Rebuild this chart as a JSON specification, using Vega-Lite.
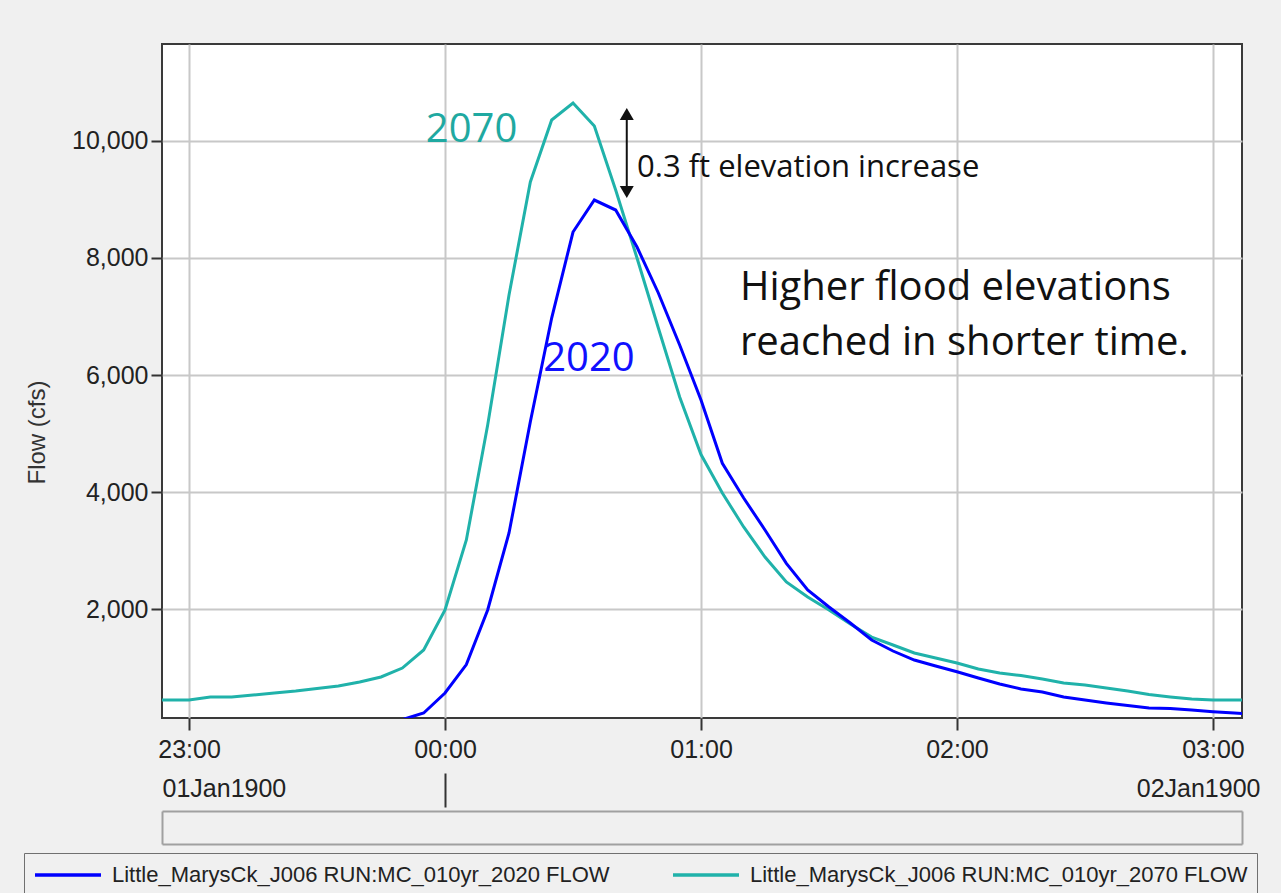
{
  "$schema": "https://vega.github.io/schema/vega-lite/v6.json",
  "width": 1080,
  "height": 674,
  "autosize": {"type": "none"},
  "padding": {"left": 162, "top": 44, "right": 39, "bottom": 175},
  "background": "#f0f0f0",
  "view": {"fill": "white", "stroke": "#3a3a3a", "strokeWidth": 2},
  "config": {"text": {"lineBreak": "\n"}},
  "datasets": {
    "flows": [
      {"t": "1900-01-01T22:50:00Z", "flow": 444, "series": "Little_MarysCk_J006 RUN:MC_010yr_2070 FLOW"},
      {"t": "1900-01-01T22:55:00Z", "flow": 444, "series": "Little_MarysCk_J006 RUN:MC_010yr_2070 FLOW"},
      {"t": "1900-01-01T23:00:00Z", "flow": 446, "series": "Little_MarysCk_J006 RUN:MC_010yr_2070 FLOW"},
      {"t": "1900-01-01T23:05:00Z", "flow": 496, "series": "Little_MarysCk_J006 RUN:MC_010yr_2070 FLOW"},
      {"t": "1900-01-01T23:10:00Z", "flow": 498, "series": "Little_MarysCk_J006 RUN:MC_010yr_2070 FLOW"},
      {"t": "1900-01-01T23:15:00Z", "flow": 530, "series": "Little_MarysCk_J006 RUN:MC_010yr_2070 FLOW"},
      {"t": "1900-01-01T23:20:00Z", "flow": 564, "series": "Little_MarysCk_J006 RUN:MC_010yr_2070 FLOW"},
      {"t": "1900-01-01T23:25:00Z", "flow": 598, "series": "Little_MarysCk_J006 RUN:MC_010yr_2070 FLOW"},
      {"t": "1900-01-01T23:30:00Z", "flow": 641, "series": "Little_MarysCk_J006 RUN:MC_010yr_2070 FLOW"},
      {"t": "1900-01-01T23:35:00Z", "flow": 684, "series": "Little_MarysCk_J006 RUN:MC_010yr_2070 FLOW"},
      {"t": "1900-01-01T23:40:00Z", "flow": 752, "series": "Little_MarysCk_J006 RUN:MC_010yr_2070 FLOW"},
      {"t": "1900-01-01T23:45:00Z", "flow": 838, "series": "Little_MarysCk_J006 RUN:MC_010yr_2070 FLOW"},
      {"t": "1900-01-01T23:50:00Z", "flow": 991, "series": "Little_MarysCk_J006 RUN:MC_010yr_2070 FLOW"},
      {"t": "1900-01-01T23:55:00Z", "flow": 1300, "series": "Little_MarysCk_J006 RUN:MC_010yr_2070 FLOW"},
      {"t": "1900-01-02T00:00:00Z", "flow": 1983, "series": "Little_MarysCk_J006 RUN:MC_010yr_2070 FLOW"},
      {"t": "1900-01-02T00:05:00Z", "flow": 3180, "series": "Little_MarysCk_J006 RUN:MC_010yr_2070 FLOW"},
      {"t": "1900-01-02T00:10:00Z", "flow": 5145, "series": "Little_MarysCk_J006 RUN:MC_010yr_2070 FLOW"},
      {"t": "1900-01-02T00:15:00Z", "flow": 7368, "series": "Little_MarysCk_J006 RUN:MC_010yr_2070 FLOW"},
      {"t": "1900-01-02T00:20:00Z", "flow": 9299, "series": "Little_MarysCk_J006 RUN:MC_010yr_2070 FLOW"},
      {"t": "1900-01-02T00:25:00Z", "flow": 10359, "series": "Little_MarysCk_J006 RUN:MC_010yr_2070 FLOW"},
      {"t": "1900-01-02T00:30:00Z", "flow": 10650, "series": "Little_MarysCk_J006 RUN:MC_010yr_2070 FLOW"},
      {"t": "1900-01-02T00:35:00Z", "flow": 10256, "series": "Little_MarysCk_J006 RUN:MC_010yr_2070 FLOW"},
      {"t": "1900-01-02T00:40:00Z", "flow": 9162, "series": "Little_MarysCk_J006 RUN:MC_010yr_2070 FLOW"},
      {"t": "1900-01-02T00:45:00Z", "flow": 8000, "series": "Little_MarysCk_J006 RUN:MC_010yr_2070 FLOW"},
      {"t": "1900-01-02T00:50:00Z", "flow": 6803, "series": "Little_MarysCk_J006 RUN:MC_010yr_2070 FLOW"},
      {"t": "1900-01-02T00:55:00Z", "flow": 5624, "series": "Little_MarysCk_J006 RUN:MC_010yr_2070 FLOW"},
      {"t": "1900-01-02T01:00:00Z", "flow": 4640, "series": "Little_MarysCk_J006 RUN:MC_010yr_2070 FLOW"},
      {"t": "1900-01-02T01:05:00Z", "flow": 3983, "series": "Little_MarysCk_J006 RUN:MC_010yr_2070 FLOW"},
      {"t": "1900-01-02T01:10:00Z", "flow": 3402, "series": "Little_MarysCk_J006 RUN:MC_010yr_2070 FLOW"},
      {"t": "1900-01-02T01:15:00Z", "flow": 2889, "series": "Little_MarysCk_J006 RUN:MC_010yr_2070 FLOW"},
      {"t": "1900-01-02T01:20:00Z", "flow": 2462, "series": "Little_MarysCk_J006 RUN:MC_010yr_2070 FLOW"},
      {"t": "1900-01-02T01:25:00Z", "flow": 2205, "series": "Little_MarysCk_J006 RUN:MC_010yr_2070 FLOW"},
      {"t": "1900-01-02T01:30:00Z", "flow": 1983, "series": "Little_MarysCk_J006 RUN:MC_010yr_2070 FLOW"},
      {"t": "1900-01-02T01:35:00Z", "flow": 1744, "series": "Little_MarysCk_J006 RUN:MC_010yr_2070 FLOW"},
      {"t": "1900-01-02T01:40:00Z", "flow": 1521, "series": "Little_MarysCk_J006 RUN:MC_010yr_2070 FLOW"},
      {"t": "1900-01-02T01:45:00Z", "flow": 1385, "series": "Little_MarysCk_J006 RUN:MC_010yr_2070 FLOW"},
      {"t": "1900-01-02T01:50:00Z", "flow": 1248, "series": "Little_MarysCk_J006 RUN:MC_010yr_2070 FLOW"},
      {"t": "1900-01-02T01:55:00Z", "flow": 1163, "series": "Little_MarysCk_J006 RUN:MC_010yr_2070 FLOW"},
      {"t": "1900-01-02T02:00:00Z", "flow": 1077, "series": "Little_MarysCk_J006 RUN:MC_010yr_2070 FLOW"},
      {"t": "1900-01-02T02:05:00Z", "flow": 974, "series": "Little_MarysCk_J006 RUN:MC_010yr_2070 FLOW"},
      {"t": "1900-01-02T02:10:00Z", "flow": 906, "series": "Little_MarysCk_J006 RUN:MC_010yr_2070 FLOW"},
      {"t": "1900-01-02T02:15:00Z", "flow": 863, "series": "Little_MarysCk_J006 RUN:MC_010yr_2070 FLOW"},
      {"t": "1900-01-02T02:20:00Z", "flow": 803, "series": "Little_MarysCk_J006 RUN:MC_010yr_2070 FLOW"},
      {"t": "1900-01-02T02:25:00Z", "flow": 735, "series": "Little_MarysCk_J006 RUN:MC_010yr_2070 FLOW"},
      {"t": "1900-01-02T02:30:00Z", "flow": 701, "series": "Little_MarysCk_J006 RUN:MC_010yr_2070 FLOW"},
      {"t": "1900-01-02T02:35:00Z", "flow": 650, "series": "Little_MarysCk_J006 RUN:MC_010yr_2070 FLOW"},
      {"t": "1900-01-02T02:40:00Z", "flow": 598, "series": "Little_MarysCk_J006 RUN:MC_010yr_2070 FLOW"},
      {"t": "1900-01-02T02:45:00Z", "flow": 538, "series": "Little_MarysCk_J006 RUN:MC_010yr_2070 FLOW"},
      {"t": "1900-01-02T02:50:00Z", "flow": 496, "series": "Little_MarysCk_J006 RUN:MC_010yr_2070 FLOW"},
      {"t": "1900-01-02T02:55:00Z", "flow": 462, "series": "Little_MarysCk_J006 RUN:MC_010yr_2070 FLOW"},
      {"t": "1900-01-02T03:00:00Z", "flow": 444, "series": "Little_MarysCk_J006 RUN:MC_010yr_2070 FLOW"},
      {"t": "1900-01-02T03:05:00Z", "flow": 444, "series": "Little_MarysCk_J006 RUN:MC_010yr_2070 FLOW"},
      {"t": "1900-01-02T03:10:00Z", "flow": 444, "series": "Little_MarysCk_J006 RUN:MC_010yr_2070 FLOW"},
      {"t": "1900-01-01T23:50:00Z", "flow": 110, "series": "Little_MarysCk_J006 RUN:MC_010yr_2020 FLOW"},
      {"t": "1900-01-01T23:55:00Z", "flow": 222, "series": "Little_MarysCk_J006 RUN:MC_010yr_2020 FLOW"},
      {"t": "1900-01-02T00:00:00Z", "flow": 564, "series": "Little_MarysCk_J006 RUN:MC_010yr_2020 FLOW"},
      {"t": "1900-01-02T00:05:00Z", "flow": 1050, "series": "Little_MarysCk_J006 RUN:MC_010yr_2020 FLOW"},
      {"t": "1900-01-02T00:10:00Z", "flow": 1983, "series": "Little_MarysCk_J006 RUN:MC_010yr_2020 FLOW"},
      {"t": "1900-01-02T00:15:00Z", "flow": 3299, "series": "Little_MarysCk_J006 RUN:MC_010yr_2020 FLOW"},
      {"t": "1900-01-02T00:20:00Z", "flow": 5200, "series": "Little_MarysCk_J006 RUN:MC_010yr_2020 FLOW"},
      {"t": "1900-01-02T00:25:00Z", "flow": 6974, "series": "Little_MarysCk_J006 RUN:MC_010yr_2020 FLOW"},
      {"t": "1900-01-02T00:30:00Z", "flow": 8444, "series": "Little_MarysCk_J006 RUN:MC_010yr_2020 FLOW"},
      {"t": "1900-01-02T00:35:00Z", "flow": 8991, "series": "Little_MarysCk_J006 RUN:MC_010yr_2020 FLOW"},
      {"t": "1900-01-02T00:40:00Z", "flow": 8820, "series": "Little_MarysCk_J006 RUN:MC_010yr_2020 FLOW"},
      {"t": "1900-01-02T00:45:00Z", "flow": 8188, "series": "Little_MarysCk_J006 RUN:MC_010yr_2020 FLOW"},
      {"t": "1900-01-02T00:50:00Z", "flow": 7402, "series": "Little_MarysCk_J006 RUN:MC_010yr_2020 FLOW"},
      {"t": "1900-01-02T00:55:00Z", "flow": 6513, "series": "Little_MarysCk_J006 RUN:MC_010yr_2020 FLOW"},
      {"t": "1900-01-02T01:00:00Z", "flow": 5573, "series": "Little_MarysCk_J006 RUN:MC_010yr_2020 FLOW"},
      {"t": "1900-01-02T01:05:00Z", "flow": 4490, "series": "Little_MarysCk_J006 RUN:MC_010yr_2020 FLOW"},
      {"t": "1900-01-02T01:10:00Z", "flow": 3897, "series": "Little_MarysCk_J006 RUN:MC_010yr_2020 FLOW"},
      {"t": "1900-01-02T01:15:00Z", "flow": 3350, "series": "Little_MarysCk_J006 RUN:MC_010yr_2020 FLOW"},
      {"t": "1900-01-02T01:20:00Z", "flow": 2781, "series": "Little_MarysCk_J006 RUN:MC_010yr_2020 FLOW"},
      {"t": "1900-01-02T01:25:00Z", "flow": 2325, "series": "Little_MarysCk_J006 RUN:MC_010yr_2020 FLOW"},
      {"t": "1900-01-02T01:30:00Z", "flow": 2034, "series": "Little_MarysCk_J006 RUN:MC_010yr_2020 FLOW"},
      {"t": "1900-01-02T01:35:00Z", "flow": 1761, "series": "Little_MarysCk_J006 RUN:MC_010yr_2020 FLOW"},
      {"t": "1900-01-02T01:40:00Z", "flow": 1470, "series": "Little_MarysCk_J006 RUN:MC_010yr_2020 FLOW"},
      {"t": "1900-01-02T01:45:00Z", "flow": 1282, "series": "Little_MarysCk_J006 RUN:MC_010yr_2020 FLOW"},
      {"t": "1900-01-02T01:50:00Z", "flow": 1128, "series": "Little_MarysCk_J006 RUN:MC_010yr_2020 FLOW"},
      {"t": "1900-01-02T01:55:00Z", "flow": 1026, "series": "Little_MarysCk_J006 RUN:MC_010yr_2020 FLOW"},
      {"t": "1900-01-02T02:00:00Z", "flow": 928, "series": "Little_MarysCk_J006 RUN:MC_010yr_2020 FLOW"},
      {"t": "1900-01-02T02:05:00Z", "flow": 820, "series": "Little_MarysCk_J006 RUN:MC_010yr_2020 FLOW"},
      {"t": "1900-01-02T02:10:00Z", "flow": 718, "series": "Little_MarysCk_J006 RUN:MC_010yr_2020 FLOW"},
      {"t": "1900-01-02T02:15:00Z", "flow": 633, "series": "Little_MarysCk_J006 RUN:MC_010yr_2020 FLOW"},
      {"t": "1900-01-02T02:20:00Z", "flow": 581, "series": "Little_MarysCk_J006 RUN:MC_010yr_2020 FLOW"},
      {"t": "1900-01-02T02:25:00Z", "flow": 496, "series": "Little_MarysCk_J006 RUN:MC_010yr_2020 FLOW"},
      {"t": "1900-01-02T02:30:00Z", "flow": 444, "series": "Little_MarysCk_J006 RUN:MC_010yr_2020 FLOW"},
      {"t": "1900-01-02T02:35:00Z", "flow": 393, "series": "Little_MarysCk_J006 RUN:MC_010yr_2020 FLOW"},
      {"t": "1900-01-02T02:40:00Z", "flow": 350, "series": "Little_MarysCk_J006 RUN:MC_010yr_2020 FLOW"},
      {"t": "1900-01-02T02:45:00Z", "flow": 308, "series": "Little_MarysCk_J006 RUN:MC_010yr_2020 FLOW"},
      {"t": "1900-01-02T02:50:00Z", "flow": 300, "series": "Little_MarysCk_J006 RUN:MC_010yr_2020 FLOW"},
      {"t": "1900-01-02T02:55:00Z", "flow": 274, "series": "Little_MarysCk_J006 RUN:MC_010yr_2020 FLOW"},
      {"t": "1900-01-02T03:00:00Z", "flow": 245, "series": "Little_MarysCk_J006 RUN:MC_010yr_2020 FLOW"},
      {"t": "1900-01-02T03:05:00Z", "flow": 222, "series": "Little_MarysCk_J006 RUN:MC_010yr_2020 FLOW"},
      {"t": "1900-01-02T03:10:00Z", "flow": 205, "series": "Little_MarysCk_J006 RUN:MC_010yr_2020 FLOW"}
    ],
    "notes": [
      {"t": "1900-01-01T23:55:30Z", "flow": 9983, "label": "2070"},
      {"t": "1900-01-02T00:23:00Z", "flow": 6068, "label": "2020"},
      {"t": "1900-01-02T00:45:00Z", "flow": 9385, "label": "0.3 ft elevation increase"},
      {"t": "1900-01-02T01:09:08Z", "flow": 7282, "label": "Higher flood elevations\nreached in shorter time."}
    ],
    "arrow": [
      {"t": "1900-01-02T00:42:36Z", "flow": 10462, "end": "top"},
      {"t": "1900-01-02T00:42:36Z", "flow": 9128, "end": "bottom"}
    ]
  },
  "encoding": {
    "y": {
      "field": "flow", "type": "quantitative", "title": "Flow (cfs)",
      "scale": {"domain": [137, 11658], "nice": false, "zero": false},
      "axis": {
        "values": [2000, 4000, 6000, 8000, 10000],
        "labelExpr": "format(datum.value, ',')",
        "grid": true, "gridColor": "#c8c8c8", "gridWidth": 2,
        "domain": false, "tickSize": 11, "tickWidth": 2, "tickColor": "#333333",
        "labelFont": "Liberation Sans", "labelFontSize": 25, "labelColor": "#222222", "labelPadding": 3,
        "title": "Flow (cfs)", "titleFont": "Liberation Sans", "titleFontSize": 24,
        "titleFontWeight": "normal", "titleColor": "#333333", "titlePadding": 22, "titleY": 388
      }
    }
  },
  "layer": [
    {
      "data": {"name": "flows"},
      "mark": {"type": "line", "strokeWidth": 3, "clip": true},
      "encoding": {
        "x": {
          "field": "t", "type": "temporal",
          "scale": {"type": "utc", "nice": false, "domain": [{"year": 1900, "month": 1, "date": 1, "hours": 22, "minutes": 53, "seconds": 40, "utc": true}, {"year": 1900, "month": 1, "date": 2, "hours": 3, "minutes": 6, "seconds": 48, "utc": true}]},
          "axis": {
            "orient": "bottom",
            "values": [
              {"year": 1900, "month": 1, "date": 1, "hours": 23, "utc": true},
              {"year": 1900, "month": 1, "date": 2, "hours": 0, "utc": true},
              {"year": 1900, "month": 1, "date": 2, "hours": 1, "utc": true},
              {"year": 1900, "month": 1, "date": 2, "hours": 2, "utc": true},
              {"year": 1900, "month": 1, "date": 2, "hours": 3, "utc": true}
            ],
            "labelExpr": "utcFormat(datum.value, '%H:%M')",
            "grid": true, "gridColor": "#c8c8c8", "gridWidth": 2,
            "domain": false, "ticks": true, "tickSize": 12, "tickWidth": 2, "tickColor": "#333333",
            "labelFont": "Liberation Sans", "labelFontSize": 25, "labelColor": "#222222",
            "labelPadding": 7, "labelBaseline": "top", "labelFlush": false, "labelOverlap": false,
            "title": null
          }
        },
        "color": {
          "field": "series", "type": "nominal",
          "scale": {"domain": ["Little_MarysCk_J006 RUN:MC_010yr_2020 FLOW", "Little_MarysCk_J006 RUN:MC_010yr_2070 FLOW"], "range": ["#0000ff", "#20b2aa"]},
          "legend": {
            "orient": "none", "legendX": -138, "legendY": 809, "direction": "horizontal", "title": null,
            "symbolType": "M-1,0H5", "symbolSize": 484, "symbolStrokeWidth": 3.5,
            "labelFont": "Liberation Sans", "labelFontSize": 22, "labelColor": "#222222", "labelLimit": 800,
            "labelOffset": 53, "columnPadding": 56, "padding": 9,
            "strokeColor": "#707070", "fillColor": "#f0f0f0"
          }
        }
      }
    },
    {
      "data": {"name": "notes"},
      "transform": [{"filter": "datum.label == '2070'"}],
      "mark": {"type": "text", "font": "Open Sans", "fontSize": 40, "align": "left", "baseline": "alphabetic", "color": "#1fa9a1"},
      "encoding": {
        "x": {
          "field": "t", "type": "temporal",
          "scale": {"type": "utc", "nice": false, "domain": [{"year": 1900, "month": 1, "date": 1, "hours": 22, "minutes": 53, "seconds": 40, "utc": true}, {"year": 1900, "month": 1, "date": 2, "hours": 3, "minutes": 6, "seconds": 48, "utc": true}]},
          "axis": {
            "orient": "bottom", "offset": 55,
            "values": [
              {"year": 1900, "month": 1, "date": 1, "hours": 23, "utc": true},
              {"year": 1900, "month": 1, "date": 2, "hours": 0, "utc": true},
              {"year": 1900, "month": 1, "date": 2, "hours": 3, "utc": true}
            ],
            "domain": false, "grid": false, "ticks": true, "tickSize": 34, "tickWidth": 2, "tickColor": "#333333",
            "tickOpacity": {"condition": {"test": "abs(time(datum.value) + 2208902400000) < 1000", "value": 1}, "value": 0},
            "labelExpr": "time(datum.value) < -2208904000000 ? '01Jan1900' : (time(datum.value) > -2208900000000 ? '02Jan1900' : '')",
            "labelAlign": {"condition": {"test": "time(datum.value) < -2208904000000", "value": "left"}, "value": "right"},
            "labelOffset": {"condition": {"test": "time(datum.value) < -2208904000000", "value": -27}, "value": 47},
            "labelPadding": -31, "labelBaseline": "top",
            "labelFont": "Liberation Sans", "labelFontSize": 25, "labelColor": "#222222",
            "labelOverlap": false, "labelFlush": false, "labelBound": false,
            "title": null
          }
        },
        "text": {"field": "label"}
      }
    },
    {
      "data": {"name": "notes"},
      "transform": [{"filter": "datum.label == '2020'"}],
      "mark": {"type": "text", "font": "Open Sans", "fontSize": 40, "align": "left", "baseline": "alphabetic", "color": "#1010ff"},
      "encoding": {
        "x": {
          "field": "t", "type": "temporal",
          "scale": {"type": "utc", "nice": false, "domain": [{"year": 1900, "month": 1, "date": 1, "hours": 22, "minutes": 53, "seconds": 40, "utc": true}, {"year": 1900, "month": 1, "date": 2, "hours": 3, "minutes": 6, "seconds": 48, "utc": true}]},
          "axis": {
            "orient": "bottom", "offset": 93,
            "values": [
              {"year": 1900, "month": 1, "date": 1, "hours": 22, "minutes": 53, "seconds": 40, "utc": true},
              {"year": 1900, "month": 1, "date": 2, "hours": 3, "minutes": 6, "seconds": 48, "utc": true}
            ],
            "domain": true, "domainColor": "#a0a0a0", "domainWidth": 2,
            "ticks": true, "tickSize": 33, "tickWidth": 2, "tickColor": "#a0a0a0",
            "labels": false, "grid": false, "title": null
          }
        },
        "text": {"field": "label"}
      }
    },
    {
      "data": {"name": "notes"},
      "transform": [{"filter": "datum.label == '0.3 ft elevation increase'"}],
      "mark": {"type": "text", "font": "Open Sans", "fontSize": 31, "align": "left", "baseline": "alphabetic", "color": "#111111"},
      "encoding": {
        "x": {
          "field": "t", "type": "temporal",
          "scale": {"type": "utc", "nice": false, "domain": [{"year": 1900, "month": 1, "date": 1, "hours": 22, "minutes": 53, "seconds": 40, "utc": true}, {"year": 1900, "month": 1, "date": 2, "hours": 3, "minutes": 6, "seconds": 48, "utc": true}]},
          "axis": {
            "orient": "bottom", "offset": 126,
            "domain": true, "domainColor": "#a0a0a0", "domainWidth": 2,
            "ticks": false, "labels": false, "grid": false, "title": null
          }
        },
        "text": {"field": "label"}
      }
    },
    {
      "data": {"name": "notes"},
      "transform": [{"filter": "indexof(datum.label, 'Higher') == 0"}],
      "mark": {"type": "text", "font": "Open Sans", "fontSize": 40, "align": "left", "baseline": "alphabetic", "lineHeight": 55, "color": "#111111"},
      "encoding": {
        "x": {
          "field": "t", "type": "temporal",
          "scale": {"type": "utc", "nice": false, "domain": [{"year": 1900, "month": 1, "date": 1, "hours": 22, "minutes": 53, "seconds": 40, "utc": true}, {"year": 1900, "month": 1, "date": 2, "hours": 3, "minutes": 6, "seconds": 48, "utc": true}]},
          "axis": null
        },
        "text": {"field": "label"}
      }
    },
    {
      "data": {"name": "arrow"},
      "mark": {"type": "line", "color": "#111111", "strokeWidth": 2},
      "encoding": {
        "x": {
          "field": "t", "type": "temporal",
          "scale": {"type": "utc", "nice": false, "domain": [{"year": 1900, "month": 1, "date": 1, "hours": 22, "minutes": 53, "seconds": 40, "utc": true}, {"year": 1900, "month": 1, "date": 2, "hours": 3, "minutes": 6, "seconds": 48, "utc": true}]},
          "axis": null
        }
      }
    },
    {
      "data": {"name": "arrow"},
      "mark": {"type": "point", "filled": true, "size": 196, "color": "#111111", "opacity": 1},
      "encoding": {
        "x": {
          "field": "t", "type": "temporal",
          "scale": {"type": "utc", "nice": false, "domain": [{"year": 1900, "month": 1, "date": 1, "hours": 22, "minutes": 53, "seconds": 40, "utc": true}, {"year": 1900, "month": 1, "date": 2, "hours": 3, "minutes": 6, "seconds": 48, "utc": true}]},
          "axis": null
        },
        "shape": {"field": "end", "type": "nominal", "scale": {"domain": ["top", "bottom"], "range": ["triangle-up", "triangle-down"]}, "legend": null}
      }
    }
  ],
  "resolve": {"axis": {"x": "independent"}}
}
